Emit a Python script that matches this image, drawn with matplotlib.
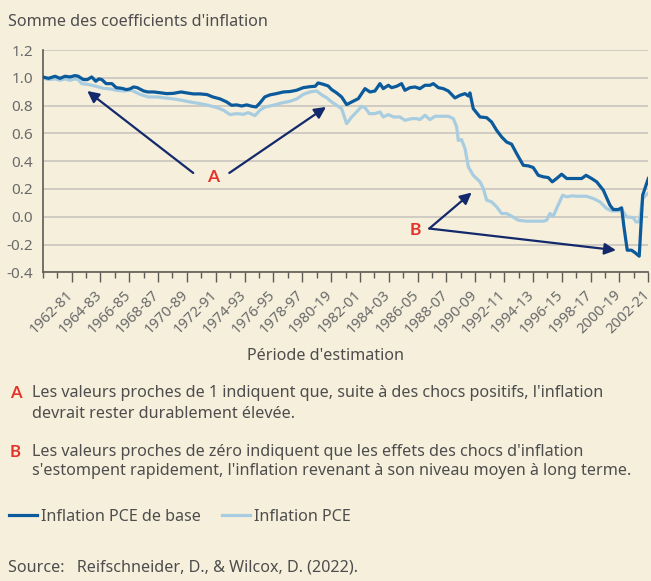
import matplotlib
matplotlib.use("Agg")
import matplotlib.pyplot as plt
from matplotlib.transforms import ScaledTranslation
import numpy as np

plt.rcParams['font.family'] = ['Noto Sans', 'DejaVu Sans']

# ---------------- data ----------------
core_x = [1960.0, 1960.4, 1960.86, 1961.2, 1961.55, 1961.9, 1962.24, 1962.47, 1962.82, 1963.1,
          1963.4, 1963.68, 1963.9, 1964.1, 1964.4, 1964.8, 1965.1, 1965.5, 1965.8, 1966.05,
          1966.3, 1966.56, 1967.0, 1967.3, 1967.7, 1968.1, 1968.6, 1969.06, 1969.6, 1970.0,
          1970.45, 1970.9, 1971.4, 1971.8, 1972.3, 1972.76, 1973.1, 1973.45, 1973.8, 1974.15,
          1974.5, 1974.8, 1975.07, 1975.4, 1975.76, 1976.2, 1976.7, 1977.15, 1977.6, 1978.07,
          1978.54, 1978.9, 1979.1, 1979.46, 1979.8,
          1980.04, 1980.39, 1980.73, 1981.08, 1981.43, 1981.89, 1982.12, 1982.35, 1982.7, 1983.04,
          1983.39, 1983.62, 1983.97, 1984.2, 1984.55, 1984.89, 1985.12, 1985.47, 1985.82, 1986.16,
          1986.51, 1986.86, 1987.09, 1987.44, 1987.78, 1988.13, 1988.59, 1988.94, 1989.29, 1989.52,
          1989.63, 1989.86, 1990.33, 1990.79, 1991.13, 1991.48, 1991.83, 1992.17, 1992.52, 1992.87,
          1993.33, 1993.68, 1994.02, 1994.37, 1994.72, 1995.06, 1995.34, 1995.64, 1995.99, 1996.34,
          1996.68, 1997.03, 1997.38, 1997.68, 1998.07, 1998.42, 1998.88, 1999.34, 1999.57, 1999.92,
          2000.15, 2000.31, 2000.54, 2000.84, 2001.07, 2001.37, 2001.61, 2002.0]
core_y = [1.006, 0.996, 1.011, 0.996, 1.011, 1.006, 1.016, 1.011, 0.987, 0.987,
          1.006, 0.975, 0.992, 0.987, 0.958, 0.958, 0.929, 0.924, 0.915, 0.920,
          0.934, 0.929, 0.905, 0.898, 0.898, 0.893, 0.886, 0.888, 0.898, 0.891,
          0.884, 0.884, 0.879, 0.862, 0.848, 0.826, 0.802, 0.805, 0.797, 0.805,
          0.795, 0.790, 0.819, 0.862, 0.877, 0.886, 0.898, 0.901, 0.910, 0.929,
          0.936, 0.939, 0.963, 0.953, 0.941,
          0.915, 0.891, 0.862, 0.807, 0.826, 0.850, 0.886, 0.922, 0.898, 0.905,
          0.958, 0.922, 0.946, 0.929, 0.939, 0.958, 0.910, 0.929, 0.934, 0.922,
          0.946, 0.946, 0.958, 0.929, 0.922, 0.905, 0.855, 0.874, 0.886, 0.869,
          0.891, 0.778, 0.718, 0.713, 0.682, 0.622, 0.574, 0.538, 0.522, 0.454,
          0.370, 0.366, 0.354, 0.298, 0.287, 0.282, 0.251, 0.275, 0.306, 0.275,
          0.275, 0.275, 0.275, 0.298, 0.275, 0.251, 0.191, 0.083, 0.052, 0.052,
          0.064, -0.073, -0.241, -0.241, -0.258, -0.284, 0.155, 0.275]

pce_x = [1960.0, 1960.39, 1960.86, 1961.2, 1961.55, 1961.9, 1962.24, 1962.47, 1962.7, 1963.1,
         1963.51, 1963.86, 1964.21, 1964.67, 1965.13, 1965.59, 1966.17, 1966.75, 1967.33, 1967.91,
         1968.48, 1969.06, 1969.64, 1970.22, 1970.91, 1971.49, 1972.07, 1972.53, 1972.99, 1973.45,
         1973.92, 1974.26, 1974.72, 1975.07, 1975.42, 1976.0, 1976.57, 1977.15, 1977.61, 1978.08,
         1978.54, 1979.0, 1979.35, 1979.69,
         1980.04, 1980.39, 1980.73, 1981.08, 1981.43, 1981.77, 1982.12, 1982.35, 1982.65, 1983.04,
         1983.39, 1983.62, 1983.97, 1984.32, 1984.78, 1985.12, 1985.59, 1985.93, 1986.16, 1986.51,
         1986.86, 1987.2, 1987.67, 1988.13, 1988.48, 1988.71, 1988.82, 1989.05, 1989.29, 1989.52,
         1989.86, 1990.33, 1990.56, 1990.79, 1991.13, 1991.48, 1991.83, 1992.17, 1992.52, 1992.98,
         1993.56, 1994.14, 1994.72, 1994.95, 1995.18, 1995.41, 1995.69, 1996.06, 1996.34, 1996.68,
         1997.14, 1997.72, 1998.19, 1998.65, 1999.11, 1999.46, 1999.92, 2000.15, 2000.5, 2000.96,
         2001.14, 2001.37, 2001.61, 2002.0]
pce_y = [1.001, 0.987, 0.992, 0.982, 0.992, 0.982, 0.992, 0.987, 0.958, 0.953,
         0.944, 0.934, 0.924, 0.920, 0.910, 0.905, 0.910, 0.881, 0.862, 0.862,
         0.855, 0.848, 0.838, 0.826, 0.814, 0.802, 0.786, 0.767, 0.735, 0.742,
         0.737, 0.749, 0.728, 0.767, 0.790, 0.802, 0.819, 0.831, 0.848, 0.881,
         0.898, 0.905, 0.877, 0.857,
         0.826, 0.802, 0.778, 0.670, 0.718, 0.754, 0.795, 0.786, 0.742, 0.742,
         0.754, 0.718, 0.735, 0.718, 0.718, 0.694, 0.706, 0.706, 0.699, 0.730,
         0.699, 0.723, 0.723, 0.723, 0.706, 0.646, 0.550, 0.555, 0.490, 0.359,
         0.298, 0.251, 0.203, 0.119, 0.107, 0.071, 0.023, 0.023, 0.004, -0.025,
         -0.032, -0.032, -0.032, -0.025, 0.023, 0.004, 0.071, 0.155, 0.143, 0.150,
         0.147, 0.147, 0.131, 0.107, 0.059, 0.042, 0.042, 0.052, -0.001, -0.006,
         -0.037, -0.037, 0.131, 0.171]

tick_years = list(range(1962, 2003, 2))
tick_labels = ["1962-81", "1964-83", "1966-85", "1968-87", "1970-89", "1972-91", "1974-93",
               "1976-95", "1978-97", "1980-19", "1982-01", "1984-03", "1986-05", "1988-07",
               "1990-09", "1992-11", "1994-13", "1996-15", "1998-17", "2000-19", "2002-21"]
y_ticks = [-0.4, -0.2, 0.0, 0.2, 0.4, 0.6, 0.8, 1.0, 1.2]

series_names = ["Inflation PCE de base", "Inflation PCE"]

# ---------------- style ----------------
BG = '#f5efdc'
DARK = '#0b5a9c'
LIGHT = '#a9cde0'
NAVY = '#13296b'
RED = '#e5332a'
TXT = '#4d4d4d'
TICK = '#6a6a6a'
FS = 11.6
BOLDFAM = ['Lato', 'DejaVu Sans']
W, H = 651, 581

fig = plt.figure(figsize=(W / 100, H / 100), dpi=100, facecolor=BG)
ax = fig.add_axes([42.7 / W, 1 - 272.3 / H, (648.3 - 42.7) / W, (272.3 - 50) / H])
ax.set_facecolor(BG)

l1, = ax.plot(core_x, core_y, color=DARK, lw=2.3, solid_joinstyle='round', zorder=3)
l2, = ax.plot(pce_x, pce_y, color=LIGHT, lw=2.3, solid_joinstyle='round', zorder=2)

ax.set_xlim(1960, 2002)
ax.set_ylim(-0.4, 1.2)
ax.set_yticks(y_ticks)
ax.set_yticklabels([f"{v:.1f}" for v in y_ticks])
ax.set_xticks(tick_years)
ax.set_xticks([y for y in range(1960, 2003) if y not in tick_years], minor=True)

ax.yaxis.grid(True, color='#c9c6c0', lw=1.2)
ax.set_axisbelow(True)
for s in ['top', 'right']:
    ax.spines[s].set_visible(False)
for s in ['left', 'bottom']:
    ax.spines[s].set_color('#5e5a55')
    ax.spines[s].set_linewidth(1.2)

ax.tick_params(axis='y', length=0, pad=7, labelsize=11, labelcolor=TICK)
ax.tick_params(axis='x', which='major', length=7, width=1.0, color='#5e5a55', pad=4,
               labelsize=10.5, labelcolor=TICK)
ax.tick_params(axis='x', which='minor', length=4.5, width=1.0, color='#5e5a55')

ax.set_xticklabels(tick_labels, rotation=45, ha='right', va='top', rotation_mode='anchor')
shift = ScaledTranslation(-6 / 100, 0, fig.dpi_scale_trans)
for lab in ax.get_xticklabels():
    lab.set_transform(lab.get_transform() + shift)

# annotations
arrow = dict(arrowstyle='-|>', color=NAVY, lw=1.6, mutation_scale=17, shrinkA=0, shrinkB=0)
ax.annotate('', xy=(1963.09, 0.905), xytext=(1970.44, 0.315), arrowprops=arrow)
ax.annotate('', xy=(1979.65, 0.79), xytext=(1972.94, 0.315), arrowprops=arrow)
ax.text(1971.79, 0.286, 'A', color=RED, fontsize=12.5, fontweight='bold', family=BOLDFAM,
        ha='center', va='center')
ax.annotate('', xy=(1989.75, 0.174), xytext=(1986.81, -0.085), arrowprops=arrow)
ax.annotate('', xy=(1999.76, -0.241), xytext=(1986.81, -0.085), arrowprops=arrow)
ax.text(1985.87, -0.092, 'B', color=RED, fontsize=12.5, fontweight='bold', family=BOLDFAM,
        ha='center', va='center')

def ft(px, py, s, **kw):
    fig.text(px / W, 1 - py / H, s, va='center', **kw)

ft(8, 22, "Somme des coefficients d'inflation", fontsize=FS, color=TXT)
ft(325.8, 356, "Période d'estimation", fontsize=FS, color=TXT, ha='center')

ft(10, 393, 'A', fontsize=12, color=RED, fontweight='bold', family=BOLDFAM)
ft(32, 393, "Les valeurs proches de 1 indiquent que, suite à des chocs positifs, l'inflation",
   fontsize=FS, color=TXT)
ft(32, 414, "devrait rester durablement élevée.", fontsize=FS, color=TXT)
ft(10, 452, 'B', fontsize=12, color=RED, fontweight='bold', family=BOLDFAM)
ft(32, 452, "Les valeurs proches de zéro indiquent que les effets des chocs d'inflation",
   fontsize=FS, color=TXT)
ft(32, 471, "s'estompent rapidement, l'inflation revenant à son niveau moyen à long terme.",
   fontsize=FS, color=TXT)

fig.legend([l1, l2], series_names, loc='center left', bbox_to_anchor=(9 / W, 1 - 517 / H),
           ncol=2, frameon=False, fontsize=FS, handlelength=1.72, handletextpad=0.26,
           columnspacing=1.32, borderpad=0, borderaxespad=0, labelcolor=TXT)

ft(8, 568, "Source:   Reifschneider, D., & Wilcox, D. (2022).", fontsize=FS, color=TXT)

fig.savefig('out.png', dpi=100, facecolor=BG)
